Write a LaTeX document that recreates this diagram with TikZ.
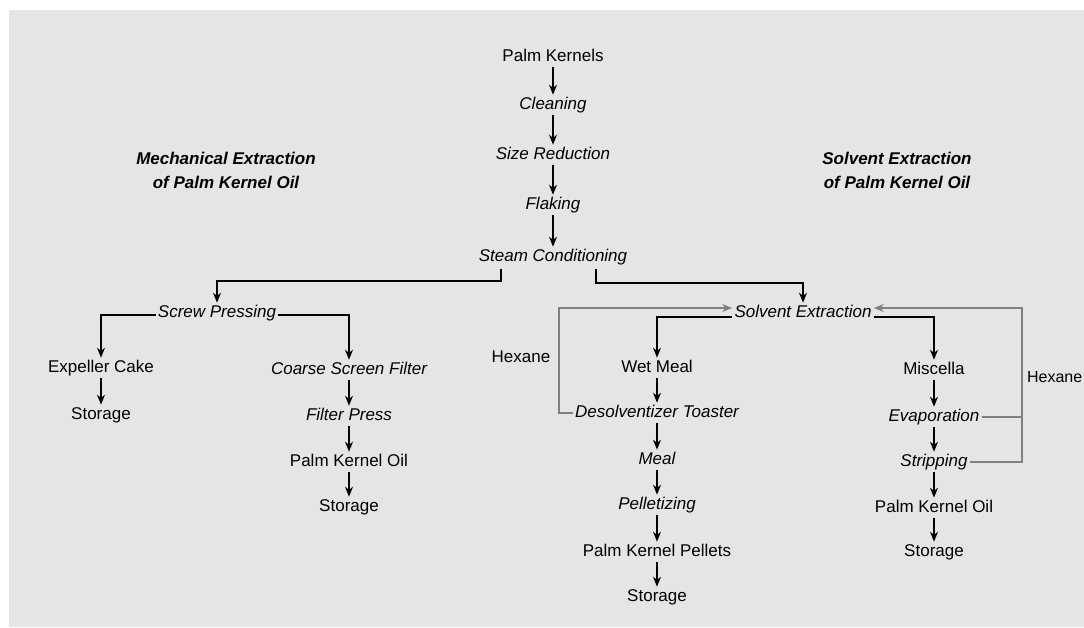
\documentclass[tikz,border=0pt]{standalone}
\usepackage{fontspec}
\setmainfont{Liberation Sans}
\usetikzlibrary{arrows.meta,positioning,calc}
\tikzset{
	->,
	>={Stealth[length=10pt,width=8pt]},
	box/.style={font=\fontsize{17}{20}\selectfont, inner sep=1.5pt, text height=12.5pt, text depth=3.5pt},
	prod/.style={box},
	proc/.style={box, font=\fontsize{17}{20}\selectfont\itshape},
	heading/.style={font=\fontsize{17}{24}\selectfont\bfseries\itshape, align=center},
	hexane/.style={draw=loopgray, line width=1.3pt},
}
\definecolor{bggray}{RGB}{229,229,229}
\definecolor{loopgray}{RGB}{128,128,128}

\begin{document}
\begin{tikzpicture}[x=1pt,y=-1pt,line width=1.6pt]
		\useasboundingbox (0,0) rectangle (1084,627);
		\fill[white] (0,0) rectangle (1084,627);
		\fill[bggray] (9,10) rectangle (1084,627);

		% common steps
		\node[prod] (pk) at (553,57) {Palm Kernels};
		\node[proc] (clean) at (553,105) {Cleaning};
		\node[proc] (sizered) at (553,155) {Size Reduction};
		\node[proc] (flake) at (553,205) {Flaking};
		\node[proc] (steam) at (553,257) {Steam Conditioning};
		\node[heading] (mechT) at (226,170) {Mechanical Extraction\\of Palm Kernel Oil};
		\node[heading] (solvT) at (897,170) {Solvent Extraction\\of Palm Kernel Oil};

		% mechanical side
		\node[proc] (screw) at (217,313) {Screw Pressing};
		\node[prod] (expel) at (101,368) {Expeller Cake};
		\node[prod] (store1) at (101,415) {Storage};
		\node[proc] (coarse) at (349,370) {Coarse Screen Filter};
		\node[proc] (fpress) at (349,416) {Filter Press};
		\node[prod] (pko1) at (349,462) {Palm Kernel Oil};
		\node[prod] (store2) at (349,507) {Storage};

		% solvent side
		\node[proc] (solv) at (803,313) {Solvent Extraction};
		\node[prod] (wet) at (657,368) {Wet Meal};
		\node[proc] (desolv) at (657,413) {Desolventizer Toaster};
		\node[proc] (meal) at (657,460) {Meal};
		\node[proc] (pellet) at (657,505) {Pelletizing};
		\node[prod] (pkp) at (657,552) {Palm Kernel Pellets};
		\node[prod] (store3) at (657,597) {Storage};
		\node[prod] (misc) at (934,370) {Miscella};
		\node[proc] (evap) at (934,417) {Evaporation};
		\node[proc] (strip) at (934,462) {Stripping};
		\node[prod] (pko2) at (934,508) {Palm Kernel Oil};
		\node[prod] (store4) at (934,552) {Storage};
		\node[prod] (hexL) at (521,358) {Hexane};
		\node[prod, font=\fontsize{16}{19}\selectfont, inner sep=0.5pt, anchor=east] (hexR) at (1083.5,378) {Hexane};

		\coordinate (steamL) at (501,269);
		\coordinate (steamR) at (596,269);
		\coordinate (loopL) at (559,308);
		\coordinate (loopR) at (1022,308);

		\foreach \a/\b in {pk/clean, clean/sizered, sizered/flake, flake/steam,
			expel/store1, coarse/fpress, fpress/pko1, pko1/store2,
			wet/desolv, desolv/meal, meal/pellet, pellet/pkp, pkp/store3,
			misc/evap, evap/strip, strip/pko2, pko2/store4}
			\draw (\a) -- (\b);

		\draw (steamL) -- ++(0,12) -| (screw);
		\draw (steamR) -- ++(0,14) -| (solv);
		\draw ([yshift=-2pt]screw.west) -| (expel);
		\draw ([yshift=-2pt]screw.east) -| (coarse);
		\draw ([yshift=-4pt]solv.west) -| (wet);
		\draw ([yshift=-4pt]solv.east) -| (misc);

		% hexane recycle
		\draw[hexane] (desolv.west) -| (loopL) -- ([yshift=5pt]solv.west);
		\draw[hexane] (strip.east) -| (loopR) -- ([yshift=5pt]solv.east);
		\draw[hexane,-] (evap.east) -- (evap.east -| loopR);
	\end{tikzpicture}
\end{document}
